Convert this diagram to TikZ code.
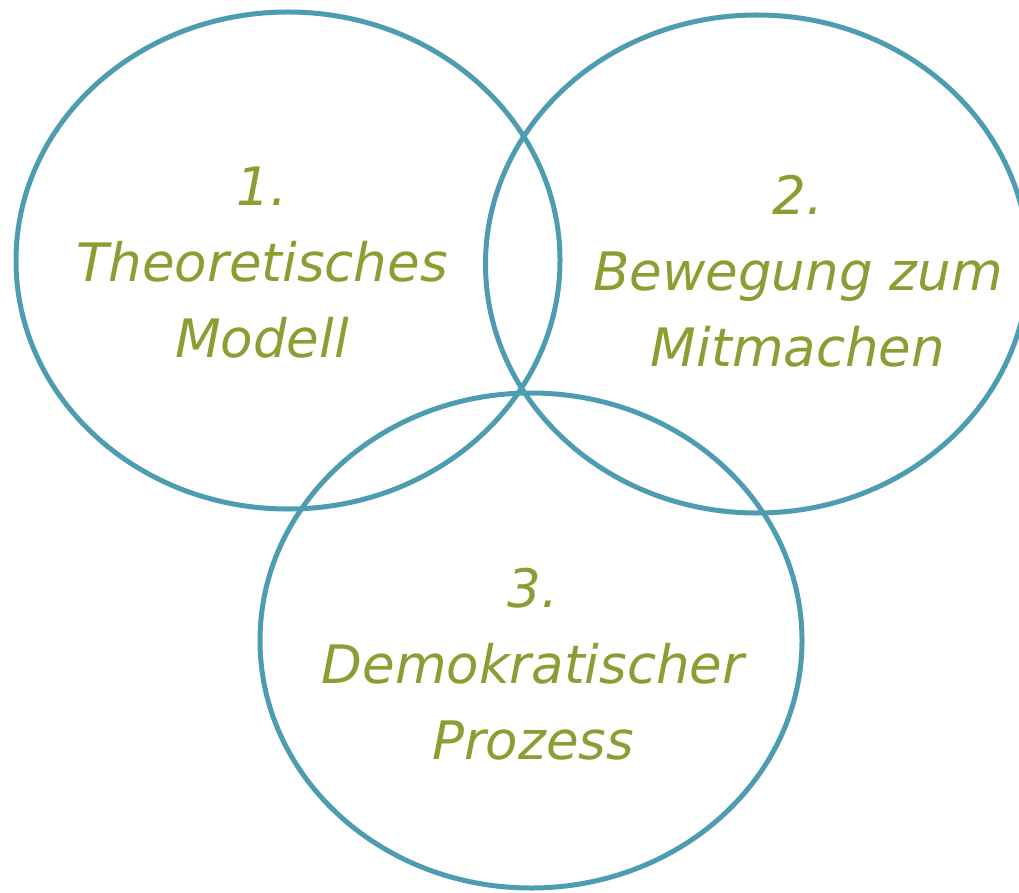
\documentclass[tikz,border=0pt]{standalone}
\usepackage{fontspec}
\setmainfont{DejaVu Sans}
\usetikzlibrary{shapes.geometric}
\definecolor{ringblue}{HTML}{4E9CB2}
\definecolor{labelgreen}{HTML}{8A9E33}
\begin{document}
\begin{tikzpicture}[x=1pt,y=-1pt,
  ring/.style={draw=ringblue,line width=5pt,ellipse,inner sep=0pt},
  lbl/.style={text=labelgreen,font=\fontsize{53}{76}\selectfont\itshape,align=center,inner sep=0pt,anchor=base}]
\useasboundingbox (0,0) rectangle (1019,893);
\begin{scope}
\clip (0,0) rectangle (1019,893);
\node[ring,minimum width=544pt,minimum height=497pt] (e1) at (288,260.5) {};
\node[ring,minimum width=543pt,minimum height=498pt] (e2) at (757,264) {};
\node[ring,minimum width=542pt,minimum height=495pt] (e3) at (531,640.5) {};
\end{scope}
\node[lbl] (t1) at (262,357) {1.\\Theoretisches\\Modell};
\node[lbl] (t2) at (798,366) {2.\\Bewegung zum\\Mitmachen};
\node[lbl] (t3) at (533,759) {3.\\Demokratischer\\Prozess};
\end{tikzpicture}
\end{document}
